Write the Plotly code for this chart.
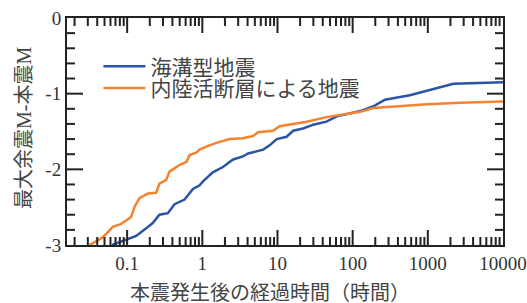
import plotly.graph_objects as go

# Elapsed time after mainshock (hours) and max aftershock M - mainshock M
trench_t = [0.063, 0.097, 0.132, 0.179, 0.219, 0.269, 0.348, 0.427, 0.581, 0.75,
            0.92, 1.02, 1.38, 1.88, 2.57, 3.47, 4.07, 6.46, 7.94, 9.77,
            13.2, 16.2, 21.9, 29.9, 44.7, 61.7, 91.2, 126, 186, 269,
            575, 1175, 2190, 10000]
trench_m = [-3.0, -2.93, -2.88, -2.78, -2.71, -2.60, -2.58, -2.46, -2.40, -2.26,
            -2.21, -2.16, -2.04, -1.97, -1.87, -1.83, -1.79, -1.74, -1.68, -1.60,
            -1.57, -1.49, -1.46, -1.41, -1.37, -1.30, -1.26, -1.23, -1.17, -1.08,
            -1.02, -0.94, -0.87, -0.85]

inland_t = [0.0316, 0.0473, 0.0646, 0.0832, 0.113, 0.126, 0.146, 0.188, 0.243, 0.269,
            0.331, 0.366, 0.407, 0.501, 0.617, 0.676, 0.832, 0.92, 1.13, 1.54,
            2.31, 3.47, 4.73, 5.50, 8.71, 10.7, 16.2, 24.5, 44.7, 75,
            126, 186, 977, 2690, 10000]
inland_m = [-3.0, -2.90, -2.76, -2.72, -2.63, -2.49, -2.38, -2.32, -2.31, -2.19,
            -2.14, -2.03, -2.00, -1.94, -1.90, -1.81, -1.78, -1.74, -1.70, -1.65,
            -1.60, -1.59, -1.56, -1.51, -1.49, -1.43, -1.40, -1.37, -1.31, -1.27,
            -1.24, -1.19, -1.14, -1.12, -1.105]

x_tickvals = [0.1, 1, 10, 100, 1000, 10000]
x_ticktext = ["0.1", "1", "10", "100", "1000", "10000"]
x_minorvals = [d * m for d in [0.01, 0.1, 1, 10, 100, 1000] for m in range(2, 10)]
y_tickvals = [0, -1, -2, -3]
y_ticktext = ["0", "-1", "-2", "-3"]
y_majorticks = [-1, -2]
y_minorvals = [-(i / 5) for i in range(16) if i % 5 != 0]

names = ["海溝型地震", "内陸活断層による地震"]
x_title = "本震発生後の経過時間（時間）"
y_title = "最大余震M-本震M"

font_fam = "Liberation Serif, Noto Sans CJK JP, serif"
axis_col = "#222"
tick_col = "#222"
x_range = [-1.8, 4.0]
y_range = [-3, 0]
plot_w = 436
plot_h = 227
px_per_decade = plot_w / (x_range[1] - x_range[0])
px_per_unit_y = plot_h / (y_range[1] - y_range[0])

fig = go.Figure()
fig.add_trace(go.Scatter(x=trench_t, y=trench_m, mode="lines", name=names[0],
                         legend="legend", line=dict(color="#2a54a6", width=2.5)))
fig.add_trace(go.Scatter(x=inland_t, y=inland_m, mode="lines", name=names[1],
                         legend="legend2", line=dict(color="#f5822f", width=2.5)))

# inside tick marks on all four sides, drawn as a line trace through the axes' scales
tx, ty = [], []
xmin, xmax = 10 ** x_range[0], 10 ** x_range[1]
def xtick(v, length):
    d = length / px_per_unit_y
    tx.extend([v, v, None, v, v, None])
    ty.extend([y_range[0], y_range[0] + d, None, y_range[1], y_range[1] - d, None])

def ytick(v, length):
    f = 10 ** (length / px_per_decade)
    tx.extend([xmin, xmin * f, None, xmax, xmax / f, None])
    ty.extend([v, v, None, v, v, None])

for v in x_tickvals[:-1]:
    xtick(v, 15)
for v in x_minorvals:
    xtick(v, 8)
for v in y_majorticks:
    ytick(v, 16)
for v in y_minorvals:
    ytick(v, 8)

fig.add_trace(go.Scatter(x=tx, y=ty, mode="lines", showlegend=False, hoverinfo="skip",
                         connectgaps=False, cliponaxis=False,
                         line=dict(color=tick_col, width=2, simplify=False)))

fig.update_layout(
    width=527, height=303,
    margin=dict(l=67, r=24, t=18, b=58),
    paper_bgcolor="white", plot_bgcolor="white",
    font=dict(family=font_fam, size=19, color="#333"),
    showlegend=True,
    legend=dict(x=0.072, y=0.876, xanchor="left", yanchor="top", itemwidth=42,
                bgcolor="rgba(0,0,0,0)", font=dict(size=21, color="#444")),
    legend2=dict(x=0.072, y=0.780, xanchor="left", yanchor="top", itemwidth=42,
                 bgcolor="rgba(0,0,0,0)", font=dict(size=21, color="#444")),
    xaxis=dict(
        type="log", range=x_range, automargin=False,
        tickmode="array", tickvals=x_tickvals, ticktext=x_ticktext, ticks="",
        showline=True, linecolor=axis_col, linewidth=2, mirror=True,
        showgrid=False, zeroline=False,
        tickfont=dict(size=19, color="#333"),
    ),
    yaxis=dict(
        range=y_range, automargin=False,
        tickmode="array", tickvals=y_tickvals, ticktext=y_ticktext, ticks="",
        showline=True, linecolor=axis_col, linewidth=2, mirror=True,
        showgrid=False, zeroline=False,
        tickfont=dict(size=19, color="#333"),
    ),
    annotations=[
        dict(text=x_title, xref="paper", yref="paper", x=0.466, y=-0.211,
             xanchor="center", yanchor="middle", showarrow=False,
             font=dict(size=20, color="#444")),
        dict(text=y_title, xref="paper", yref="paper", x=-0.099, y=0.515,
             xanchor="center", yanchor="middle", showarrow=False, textangle=-90,
             font=dict(size=20, color="#444")),
    ],
)

fig.write_html("out.html", config={"displayModeBar": False},
               post_script="document.body.style.margin='0';")
